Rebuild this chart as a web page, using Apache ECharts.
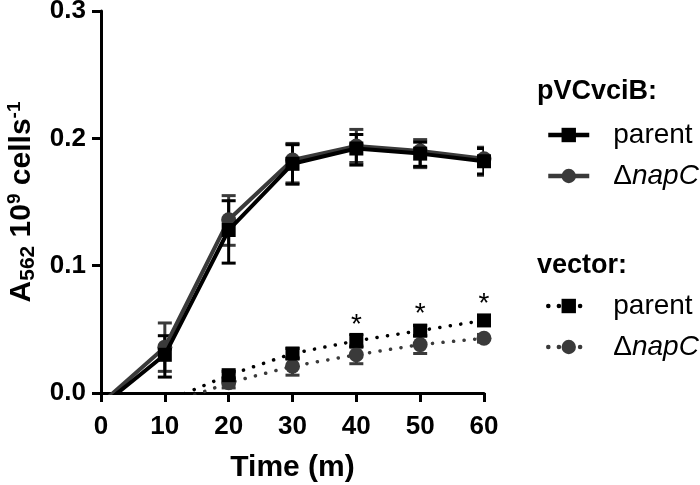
<!DOCTYPE html>
<html>
<head>
<meta charset="utf-8">
<script src="https://cdn.jsdelivr.net/npm/echarts@6/dist/echarts.min.js"></script>
<style>html,body{margin:0;padding:0;background:#fff}#c{width:700px;height:485px}</style>
</head>
<body>
<div id="c"></div>
<script>
// ---- data ----
const times = [0, 10, 20, 30, 40, 50, 60];
const xTicks = ['0', '10', '20', '30', '40', '50', '60'];
const yTicks = ['0.0', '0.1', '0.2', '0.3'];

const pvParent   = [-0.0105, 0.030, 0.128, 0.180, 0.192, 0.188, 0.182];
const pvParentLo = [null, 0.0125, 0.102, 0.164, 0.179, 0.178, 0.172];
const pvParentHi = [null, 0.045, 0.151, 0.195, 0.203, 0.197, 0.192];

const pvNapC   = [-0.0084, 0.036, 0.136, 0.183, 0.194, 0.190, 0.184];
const pvNapCLo = [null, 0.017, 0.116, 0.165, 0.181, 0.177, 0.171];
const pvNapCHi = [null, 0.055, 0.155, 0.196, 0.207, 0.199, 0.193];

const vecParent   = [null, -0.007, 0.014, 0.031, 0.041, 0.049, 0.057];
const vecParentLo = [null, null, 0.011, 0.027, 0.036, 0.045, 0.054];
const vecParentHi = [null, null, 0.017, 0.035, 0.046, 0.053, 0.060];

const vecNapC   = [null, -0.010, 0.008, 0.021, 0.030, 0.038, 0.043];
const vecNapCLo = [null, null, 0.004, 0.014, 0.023, 0.031, 0.040];
const vecNapCHi = [null, null, 0.012, 0.028, 0.037, 0.045, 0.046];

const significance = ['', '', '', '', '*', '*', '*'];

// ---- helpers ----
const BLACK = '#000000';
const GRAY = '#3a3a3a';
const FONT = 'Liberation Sans, Arial, sans-serif';

function pts(vals) {
  const out = [];
  times.forEach((t, i) => { if (vals[i] !== null) out.push([t, vals[i]]); });
  return out;
}
function errPts(lo, hi) {
  const out = [];
  times.forEach((t, i) => { if (lo[i] !== null && hi[i] !== null) out.push([t, lo[i], hi[i]]); });
  return out;
}
function errSeries(lo, hi, color, z) {
  return {
    type: 'custom',
    clip: true,
    z: z,
    silent: true,
    data: errPts(lo, hi),
    encode: { x: 0, y: [1, 2] },
    renderItem: function (params, api) {
      const x = api.value(0);
      const p1 = api.coord([x, api.value(1)]);
      const p2 = api.coord([x, api.value(2)]);
      const w = 7;
      const st = { stroke: color, lineWidth: 3 };
      return {
        type: 'group',
        children: [
          { type: 'line', shape: { x1: p1[0], y1: p1[1], x2: p2[0], y2: p2[1] }, style: st },
          { type: 'line', shape: { x1: p1[0] - w, y1: p1[1], x2: p1[0] + w, y2: p1[1] }, style: st },
          { type: 'line', shape: { x1: p2[0] - w, y1: p2[1], x2: p2[0] + w, y2: p2[1] }, style: st }
        ]
      };
    }
  };
}

const legendNames = {
  'pv_parent': '{t|parent}',
  'pv_napC': '{t|Δ}{i|napC}',
  'vec_parent': '{t|parent}',
  'vec_napC': '{t|Δ}{i|napC}'
};
const legendRich = {
  t: { fontSize: 28, fontFamily: FONT, color: '#000' },
  i: { fontSize: 28, fontFamily: FONT, fontStyle: 'italic', color: '#000' }
};
function legendCfg(names, top) {
  return {
    data: names, orient: 'vertical', left: 541, top: top,
    itemWidth: 41, itemHeight: 18, itemGap: 13,
    formatter: n => legendNames[n],
    lineStyle: { width: 4.5 },
    textStyle: { fontSize: 28, fontFamily: FONT, color: '#000', padding: [0, 0, 0, 19], rich: legendRich }
  };
}

const option = {
  animation: false,
  backgroundColor: '#fff',
  grid: { left: 101, right: 216, top: 11, bottom: 92, containLabel: false, outerBoundsMode: 'none' },
  xAxis: {
    type: 'value', min: 0, max: 60, interval: 10,
    name: 'Time (m)', nameLocation: 'middle', nameGap: 60,
    nameTextStyle: { fontSize: 30, fontWeight: 'bold', fontFamily: FONT, color: '#000' },
    axisLine: { lineStyle: { color: '#000', width: 3 } },
    axisTick: { length: 9, lineStyle: { color: '#000', width: 3 } },
    axisLabel: { fontSize: 26, fontWeight: 'bold', fontFamily: FONT, color: '#000', margin: 21,
      formatter: v => xTicks[times.indexOf(v)] },
    splitLine: { show: false }
  },
  yAxis: {
    type: 'value', min: 0, max: 0.3, interval: 0.1,
    name: '{b|A}{sub|562}{b| 10}{sup|9}{b| cells}{sup|-1}',
    nameLocation: 'middle', nameGap: 62, nameRotate: 90,
    nameTextStyle: {
      color: '#000',
      rich: {
        b: { fontSize: 30, fontWeight: 'bold', fontFamily: FONT, color: '#000', lineHeight: 34 },
        sub: { fontSize: 21, fontWeight: 'bold', fontFamily: FONT, color: '#000', lineHeight: 21, verticalAlign: 'bottom', padding: [8, 0, 0, 0] },
        sup: { fontSize: 19, fontWeight: 'bold', fontFamily: FONT, color: '#000', lineHeight: 19, verticalAlign: 'top', padding: [0, 0, 12, 0] }
      }
    },
    axisLine: { show: true, lineStyle: { color: '#000', width: 3 } },
    axisTick: { show: true, length: 9, lineStyle: { color: '#000', width: 3 } },
    axisLabel: { fontSize: 26, fontWeight: 'bold', fontFamily: FONT, color: '#000', margin: 15,
      formatter: v => yTicks[Math.round(v * 10)] },
    splitLine: { show: false }
  },
  legend: [
    legendCfg(['pv_parent', 'pv_napC'], 116),
    legendCfg(['vec_parent', 'vec_napC'], 287)
  ],
  graphic: [
    { type: 'text', left: 537, top: 78, style: { text: 'pVCvciB:', font: 'bold 27px ' + FONT, fill: '#000' } },
    { type: 'text', left: 537, top: 252, style: { text: 'vector:', font: 'bold 27px ' + FONT, fill: '#000' } }
  ],
  series: [
    errSeries(vecNapCLo, vecNapCHi, GRAY, 2),
    errSeries(vecParentLo, vecParentHi, BLACK, 2),
    {
      name: 'vec_napC', type: 'line', data: pts(vecNapC), clip: true, z: 3,
      symbol: 'circle', symbolSize: 15, showAllSymbol: true,
      itemStyle: { color: GRAY },
      lineStyle: { color: GRAY, width: 3.5, type: [0.1, 10.5], cap: 'round' }
    },
    {
      name: 'vec_parent', type: 'line', data: pts(vecParent), clip: true, z: 4,
      symbol: 'rect', symbolSize: 14, showAllSymbol: true,
      itemStyle: { color: BLACK },
      lineStyle: { color: BLACK, width: 3.5, type: [0.1, 10.5], cap: 'round' },
      label: {
        show: true, position: 'top', distance: -5,
        formatter: p => significance[times.indexOf(p.value[0])],
        fontSize: 28, fontFamily: FONT, color: '#000'
      }
    },
    errSeries(pvNapCLo, pvNapCHi, GRAY, 5),
    errSeries(pvParentLo, pvParentHi, BLACK, 5),
    {
      name: 'pv_napC', type: 'line', data: pts(pvNapC), clip: true, z: 6,
      symbol: 'circle', symbolSize: 15, showAllSymbol: true,
      itemStyle: { color: GRAY },
      lineStyle: { color: GRAY, width: 4 }
    },
    {
      name: 'pv_parent', type: 'line', data: pts(pvParent), clip: true, z: 7,
      symbol: 'rect', symbolSize: 14, showAllSymbol: true,
      itemStyle: { color: BLACK },
      lineStyle: { color: BLACK, width: 4 }
    }
  ]
};

const chart = echarts.init(document.getElementById('c'), null, { renderer: 'canvas' });
chart.setOption(option);
</script>
</body>
</html>
